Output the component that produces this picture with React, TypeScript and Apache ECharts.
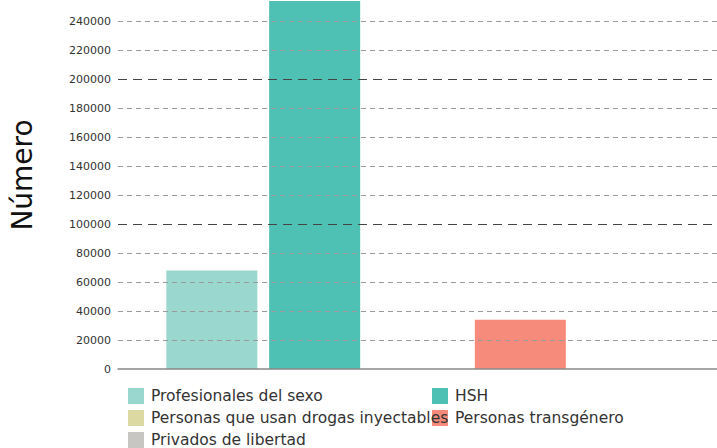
import React, { useEffect, useRef } from "react";
import * as echarts from "echarts";

const categories = [""];
const seriesNames = [
  "Profesionales del sexo",
  "HSH",
  "Personas que usan drogas inyectables",
  "Personas transgénero",
  "Privados de libertad",
];
const seriesValues: (number | null)[][] = [[68000], [254000], [null], [34000], [null]];
const seriesColors = ["#9ad8cf", "#4ec0b4", "#ddd9a3", "#f68b7b", "#c8c6c3"];
const yTicks = { min: 0, max: 254000, interval: 20000 };
const legendSlots = [
  [128, 388],
  [432, 388],
  [128, 410],
  [432, 410],
  [128, 432],
];

export default function App() {
  const ref = useRef<HTMLDivElement>(null);
  useEffect(() => {
    if (!ref.current) return;
    const chart = echarts.init(ref.current, undefined, { renderer: "svg" });
    const font = "DejaVu Sans";
    const minor = "#9a9a9a";
    chart.setOption({
      animation: false,
      textStyle: { fontFamily: font },
      grid: { left: 118, width: 605, top: 1, bottom: 79 },
      graphic: [
        {
          type: "text",
          x: 22,
          y: 175,
          rotation: Math.PI / 2,
          style: {
            text: "Número",
            fontSize: 28,
            fontFamily: font,
            fill: "#111",
            align: "center",
            verticalAlign: "middle",
          },
        },
      ],
      legend: seriesNames.map((name, i) => ({
        data: [name],
        left: legendSlots[i][0],
        top: legendSlots[i][1],
        padding: 0,
        z: i === 2 ? 6 : 4,
        itemWidth: 16,
        itemHeight: 16,
        icon: "rect",
        textStyle: { fontSize: 15.5, color: "#333", fontFamily: font, padding: [0, 0, 0, 2] },
      })),
      xAxis: {
        type: "category",
        data: categories,
        z: 5,
        axisLine: { show: true, lineStyle: { color: "#888", width: 1.5 } },
        axisTick: { show: false },
        axisLabel: { show: false },
      },
      yAxis: [
        {
          type: "value",
          min: yTicks.min,
          max: yTicks.max,
          interval: yTicks.interval,
          z: 3,
          axisLine: { show: false },
          axisTick: { show: false },
          axisLabel: {
            fontSize: 11,
            color: "#333",
            margin: 7,
            fontFamily: font,
            showMaxLabel: false,
            formatter: (v: number) => String(v),
          },
          splitLine: {
            show: true,
            showMinLine: true,
            showMaxLine: false,
            lineStyle: { color: ["transparent", minor, minor, minor, minor], type: [5, 4], width: 1 },
          },
        },
        {
          type: "value",
          min: 0,
          max: yTicks.max,
          interval: 100000,
          z: 4,
          axisLine: { show: false },
          axisTick: { show: false },
          axisLabel: { show: false },
          splitLine: {
            show: true,
            showMinLine: false,
            showMaxLine: false,
            lineStyle: { color: "#444", type: [9, 6], width: 1 },
          },
        },
      ],
      series: seriesNames.map((name, i) => ({
        name,
        type: "bar",
        data: seriesValues[i],
        barWidth: 91,
        barGap: "13%",
        itemStyle: { color: seriesColors[i] },
      })),
    });
    return () => chart.dispose();
  }, []);
  return <div ref={ref} style={{ width: 717, height: 448, position: "absolute", left: 0, top: 0 }} />;
}
